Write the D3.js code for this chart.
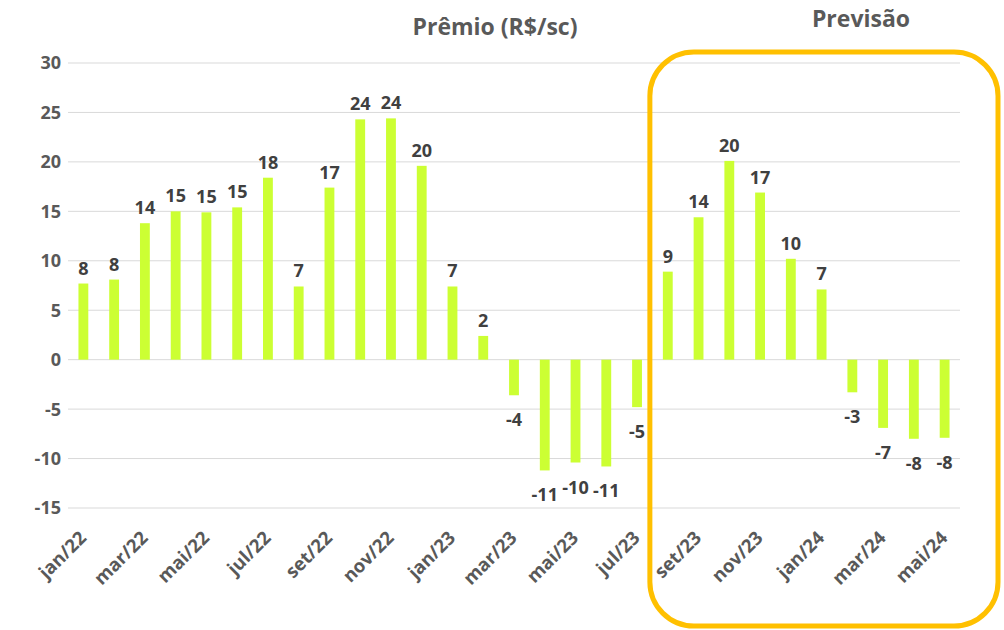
<!DOCTYPE html>
<html><head><meta charset="utf-8">
<script src="https://cdn.jsdelivr.net/npm/d3@7"></script>
<style>body{margin:0;background:#fff;} svg{display:block;font-family:"Open Sans",sans-serif;}</style>
</head><body>
<svg id="c" width="1004" height="630"></svg>
<script>
const categories = ["jan/22","fev/22","mar/22","abr/22","mai/22","jun/22","jul/22","ago/22","set/22","out/22","nov/22","dez/22",
  "jan/23","fev/23","mar/23","abr/23","mai/23","jun/23","jul/23","ago/23","set/23","out/23","nov/23","dez/23",
  "jan/24","fev/24","mar/24","abr/24","mai/24"];
const values = [7.7,8.1,13.8,15.0,14.9,15.4,18.4,7.4,17.4,24.3,24.4,19.6,
  7.4,2.4,-3.6,-11.2,-10.4,-10.8,-4.8,8.9,14.4,20.1,16.9,10.2,
  7.1,-3.3,-6.9,-8.0,-7.9];
const yTicks = [30,25,20,15,10,5,0,-5,-10,-15];
const tickCategories = categories.filter((d,i)=>i%2===0);
const title = "Prêmio (R$/sc)";
const forecastLabel = "Previsão";
const forecastStart = "ago/23";

(function(){
const svg = d3.select("#c");
const pL = 68, pR = 960, pT = 63, pB = 508;
const x = d3.scaleBand().domain(categories).range([pL, pR]).paddingInner(0.68).paddingOuter(0.34);
const y = d3.scaleLinear().domain([-15,30]).range([pB, pT]);

svg.append("g").selectAll("line").data(yTicks).join("line")
  .attr("x1", pL).attr("x2", pR)
  .attr("y1", d=>y(d)).attr("y2", d=>y(d))
  .attr("stroke", "#d9d9d9").attr("stroke-width", 1);

svg.append("g").selectAll("text").data(yTicks).join("text")
  .attr("x", 61).attr("y", d=>y(d)).attr("dy","0.36em")
  .attr("text-anchor","end").attr("fill","#595959")
  .attr("font-size", 18).attr("font-weight", 700)
  .text(d=>d);

svg.append("g").selectAll("rect").data(values).join("rect")
  .attr("x", (d,i)=>x(categories[i]))
  .attr("width", x.bandwidth())
  .attr("y", d=>y(Math.max(0,d)))
  .attr("height", d=>Math.abs(y(d)-y(0)))
  .attr("fill", "#ccff33");

svg.append("g").selectAll("text").data(values).join("text")
  .attr("x", (d,i)=>x(categories[i]) + x.bandwidth()/2)
  .attr("y", d=> d>=0 ? y(d)-9 : y(d)+31)
  .attr("text-anchor","middle").attr("fill","#404040")
  .attr("font-size", 18).attr("font-weight", 700)
  .text(d=>Math.round(d));

const xl = svg.append("g").selectAll("g").data(tickCategories).join("g")
  .attr("transform", d=>"translate(" + (x(d)+x.bandwidth()/2+4) + "," + (pB+31) + ")");
xl.append("text")
  .attr("transform", "rotate(-45)")
  .attr("text-anchor","end").attr("fill","#595959")
  .attr("font-size", 18.5).attr("font-weight", 700)
  .text(d=>d);

svg.append("text").attr("x", 495).attr("y", 35).attr("text-anchor","middle")
  .attr("fill","#595959").attr("font-size", 23).attr("font-weight", 700).text(title);

const bx = x(forecastStart) - 13;
svg.append("rect").attr("x", bx).attr("y", 52).attr("width", 998 - bx).attr("height", 574)
  .attr("rx", 44).attr("ry", 44).attr("fill","none").attr("stroke","#ffc000").attr("stroke-width", 5);
svg.append("text").attr("x", 861).attr("y", 27).attr("text-anchor","middle")
  .attr("fill","#595959").attr("font-size", 23).attr("font-weight", 700).text(forecastLabel);
})();
</script>
</body></html>
